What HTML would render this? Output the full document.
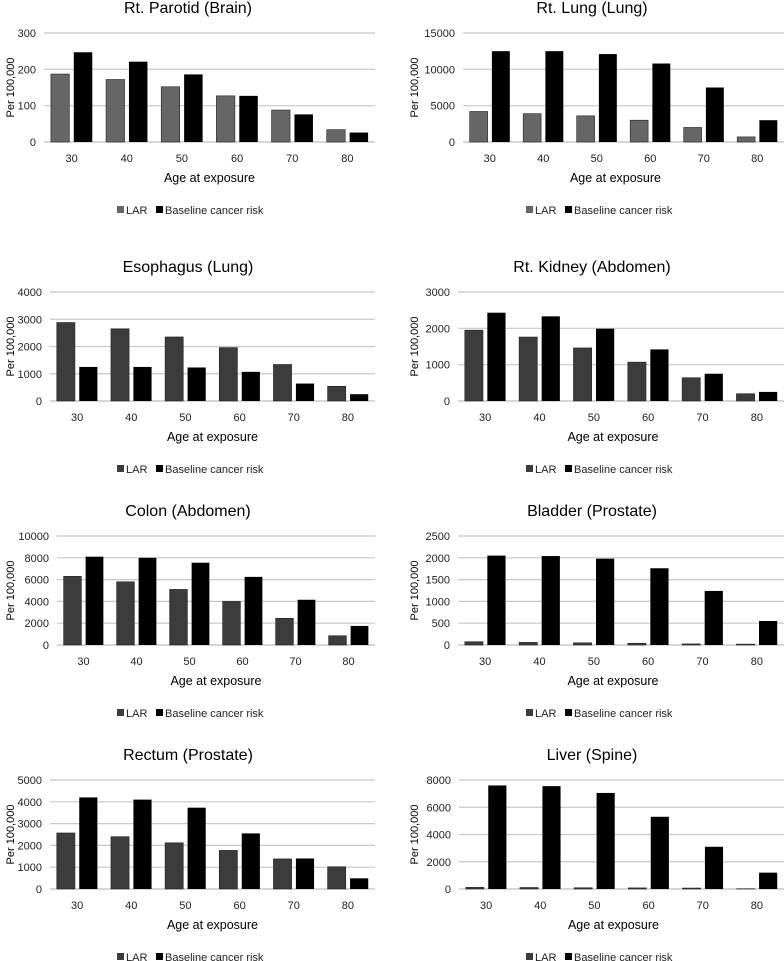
<!DOCTYPE html>
<html><head><meta charset="utf-8">
<style>
html,body{margin:0;padding:0;background:#fff;}
svg{display:block;font-family:"Liberation Sans","DejaVu Sans",sans-serif;}
</style></head>
<body>
<svg id="page" width="784" height="961" viewBox="0 0 784 961" xmlns="http://www.w3.org/2000/svg"></svg>
<script>
const categories = ["30","40","50","60","70","80"];
const titles = ["Rt. Parotid (Brain)","Rt. Lung (Lung)","Esophagus (Lung)","Rt. Kidney (Abdomen)","Colon (Abdomen)","Bladder (Prostate)","Rectum (Prostate)","Liver (Spine)"];
const larParotid = [187,172,152,127,88,34];
const baseParotid = [247,221,186,127,76,26];
const larLung = [4200,3900,3600,3000,2000,700];
const baseLung = [12500,12500,12100,10800,7500,3000];
const larEsophagus = [2880,2650,2350,1960,1340,540];
const baseEsophagus = [1250,1250,1230,1070,640,250];
const larKidney = [1950,1760,1460,1070,640,200];
const baseKidney = [2430,2330,1990,1420,750,250];
const larColon = [6300,5800,5100,4000,2450,850];
const baseColon = [8100,8000,7550,6250,4150,1750];
const larBladder = [75,60,50,40,25,20];
const baseBladder = [2050,2040,1980,1760,1240,550];
const larRectum = [2570,2400,2120,1770,1380,1020];
const baseRectum = [4200,4100,3730,2550,1400,490];
const larLiver = [120,110,90,80,70,20];
const baseLiver = [7600,7550,7050,5300,3100,1200];
const yTicks0 = [0,100,200,300];
const yTicks1 = [0,5000,10000,15000];
const yTicks2 = [0,1000,2000,3000,4000];
const yTicks3 = [0,1000,2000,3000];
const yTicks4 = [0,2000,4000,6000,8000,10000];
const yTicks5 = [0,500,1000,1500,2000,2500];
const yTicks6 = [0,1000,2000,3000,4000,5000];
const yTicks7 = [0,2000,4000,6000,8000];

const charts = [
 {lar:larParotid, base:baseParotid, ticks:yTicks0, left:44, right:375, top:33, larColor:"#666666"},
 {lar:larLung, base:baseLung, ticks:yTicks1, left:463, right:784, top:33, larColor:"#666666"},
 {lar:larEsophagus, base:baseEsophagus, ticks:yTicks2, left:50, right:375, top:292, larColor:"#3c3c3c"},
 {lar:larKidney, base:baseKidney, ticks:yTicks3, left:458, right:784, top:292, larColor:"#3c3c3c"},
 {lar:larColon, base:baseColon, ticks:yTicks4, left:57, right:375, top:536, larColor:"#3c3c3c"},
 {lar:larBladder, base:baseBladder, ticks:yTicks5, left:458, right:784, top:536, larColor:"#3c3c3c"},
 {lar:larRectum, base:baseRectum, ticks:yTicks6, left:50, right:375, top:780, larColor:"#3c3c3c"},
 {lar:larLiver, base:baseLiver, ticks:yTicks7, left:459, right:784, top:780, larColor:"#3c3c3c"}
];
const NS = "http://www.w3.org/2000/svg";
const svg = document.getElementById('page');
function mk(tag, attrs, parent, text){
  const e = document.createElementNS(NS, tag);
  for (const k in attrs) e.setAttribute(k, attrs[k]);
  if (text !== undefined) e.textContent = text;
  parent.appendChild(e);
  return e;
}
const keys = ["rt-parotid","rt-lung","esophagus","rt-kidney","colon","bladder","rectum","liver"];
charts.forEach((c, i) => {
  const H = 109;
  const zero = c.top + H;
  const maxV = c.ticks[c.ticks.length-1];
  const yS = v => zero - v / maxV * H;
  const cw = (c.right - c.left) / categories.length;
  const xC = k => c.left + cw * (k + 0.5);
  const isRight = i % 2 === 1;
  const panelCenter = isRight ? 592 : 188;
  const g = mk('g', {}, svg);
  
  
  const t = mk('text', {x: panelCenter, y: c.top - 20, 'text-anchor':'middle', 'font-size':'16', fill:'#000'}, g, titles[i]);
  
  
  c.ticks.forEach(v => {
    const y = yS(v);
    const gl = mk('line', {x1:c.left, x2:c.right, y1:y, y2:y, stroke: v===0 ? '#bfbfbf' : '#c8c8c8', 'stroke-width':'1.2'}, g);
    
    
    const tl = mk('text', {x:c.left - 8, y:y + 4, 'text-anchor':'end', 'font-size':'11', fill:'#222'}, g, String(v));
    
    
  });
  const yx = isRight ? 418 : 14;
  const yt = mk('text', {x:yx, y:zero - H/2, 'text-anchor':'middle', 'font-size':'11', fill:'#000', transform:`rotate(-90 ${yx} ${zero - H/2})`}, g, 'Per 100,000');
  
  
  const bw = cw * 0.335, gap = cw * 0.04;
  categories.forEach((cat, k) => {
    const cx = xC(k);
    const y1 = yS(c.lar[k]);
    const b1 = mk('rect', {x:cx - gap - bw, y:y1, width:bw, height:zero - y1, fill:c.larColor, stroke:'#222', 'stroke-width':'0.6'}, g);
    
    
    const y2 = yS(c.base[k]);
    const b2 = mk('rect', {x:cx + gap, y:y2, width:bw, height:zero - y2, fill:'#000'}, g);
    
    
    const xl = mk('text', {x:cx, y:zero + 20, 'text-anchor':'middle', 'font-size':'11', fill:'#222'}, g, cat);
    
    
  });
  const xt = mk('text', {x:(c.left + c.right)/2 + (isRight ? -8 : 0), y:zero + 40, 'text-anchor':'middle', 'font-size':'12.5', fill:'#000'}, g, 'Age at exposure');
  
  
  const lx = isRight ? 526 : 117;
  const ly = zero + 68;
  const lg = mk('g', {}, g);
  
  
  const s1 = mk('rect', {x:lx, y:ly - 4, width:7, height:7, fill:c.larColor}, lg);
  
  
  const l1 = mk('text', {x:lx + 9, y:ly + 4, 'font-size':'11', fill:'#222'}, lg, 'LAR');
  
  
  const s2 = mk('rect', {x:lx + 39, y:ly - 4, width:7, height:7, fill:'#000'}, lg);
  
  
  const l2 = mk('text', {x:lx + 48, y:ly + 4, 'font-size':'11', fill:'#222'}, lg, 'Baseline cancer risk');
  
  
});
</script>
</body></html>
